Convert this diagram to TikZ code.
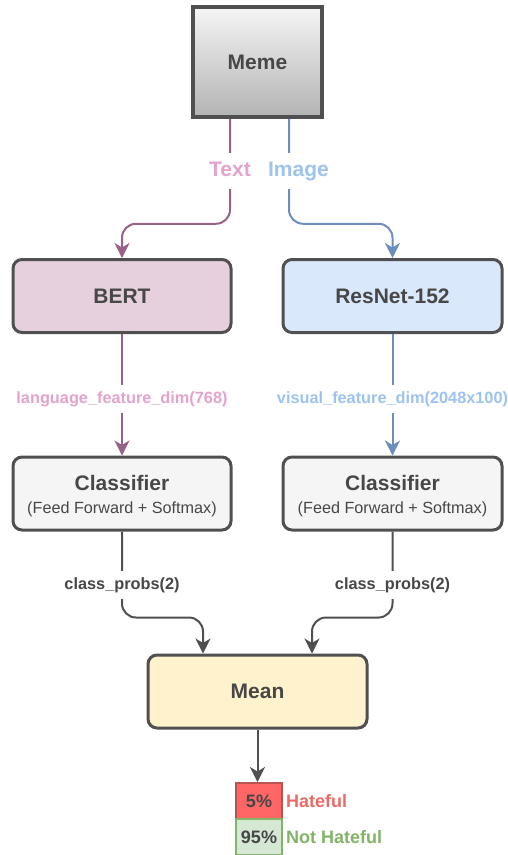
\documentclass[tikz,border=0pt]{standalone}
\usepackage{fontspec}
\setmainfont{Liberation Sans}
\usetikzlibrary{arrows.meta}
\definecolor{txt}{HTML}{474747}
\definecolor{boxline}{HTML}{505050}
\definecolor{memetop}{HTML}{F5F5F5}
\definecolor{memebot}{HTML}{B3B3B3}
\definecolor{pinkline}{HTML}{996185}
\definecolor{blueline}{HTML}{6C8EBF}
\definecolor{pinklbl}{HTML}{E4A3CB}
\definecolor{bluelbl}{HTML}{9DC3EE}
\definecolor{bertfill}{HTML}{E6D0DE}
\definecolor{resfill}{HTML}{DAE8FC}
\definecolor{clsfill}{HTML}{F5F5F5}
\definecolor{meanfill}{HTML}{FFF2CC}
\definecolor{redfill}{HTML}{FF6666}
\definecolor{redline}{HTML}{B85450}
\definecolor{redtxt}{HTML}{EA6B66}
\definecolor{greenfill}{HTML}{D5E8D4}
\definecolor{greenline}{HTML}{82B366}
\begin{document}
\begin{tikzpicture}[x=1pt,y=-1pt,
  box/.style={draw=boxline, line width=3pt, rounded corners=9pt,
    minimum width=218pt, minimum height=73pt, text=txt,
    font=\fontsize{21}{25}\selectfont\bfseries},
  conn/.style={line width=2pt, rounded corners=14pt,
    -{Stealth[length=15pt,width=15pt,inset=4.5pt]}},
  lbl/.style={fill=white, inner xsep=2pt, inner ysep=6pt,
    font=\fontsize{16.3}{19}\selectfont\bfseries, text height=12pt, text depth=3.5pt},
  biglbl/.style={fill=white, inner xsep=3pt, inner ysep=8.5pt,
    font=\fontsize{21}{25}\selectfont\bfseries, text height=15pt, text depth=4pt},
  pct/.style={line width=2pt, minimum width=46pt, minimum height=36pt, inner sep=0pt,
    text=txt, font=\fontsize{18}{20}\selectfont\bfseries},
  res/.style={anchor=west, inner sep=0pt, font=\fontsize{18}{20}\selectfont\bfseries}
]
\useasboundingbox (0,0) rectangle (507,855);

\node[draw=boxline, line width=3.5pt, top color=memetop, bottom color=memebot,
  minimum width=129pt, minimum height=110pt, text=txt,
  font=\fontsize{21}{25}\selectfont\bfseries] (meme) at (257.5,62) {Meme};

\node[box, fill=bertfill] (bert) at (122,296) {BERT};
\node[box, fill=resfill, minimum width=219pt] (resnet) at (392.5,296) {ResNet-152};

\node[box, fill=clsfill, align=center] (cls1) at (122,493.5)
  {\rule{0pt}{20pt}Classifier\\[-2.5pt]{\fontsize{16.2}{19}\selectfont\mdseries (Feed Forward + Softmax)}};
\node[box, fill=clsfill, align=center, minimum width=219pt] (cls2) at (392.5,493.5)
  {\rule{0pt}{20pt}Classifier\\[-2.5pt]{\fontsize{16.2}{19}\selectfont\mdseries (Feed Forward + Softmax)}};

\node[box, fill=meanfill, minimum width=219pt] (mean) at (257.5,691.5) {Mean};

\node[pct, draw=redline, fill=redfill] (p5) at (259,801) {5\%};
\node[pct, draw=greenline, fill=greenfill] (p95) at (259,837) {95\%};
\node[res, text=redtxt] (hate) at (286,801) {Hateful};
\node[res, text=greenline] (nohate) at (286,837) {Not Hateful};

% connectors
\draw[conn, draw=pinkline] ([xshift=-27.5pt]meme.south) -- ++(0,105) -| (bert.north);
\draw[conn, draw=blueline] ([xshift=31.5pt]meme.south) -- ++(0,105) -| (resnet.north);
\draw[conn, draw=pinkline] (bert.south) -- (cls1.north);
\draw[conn, draw=blueline] (resnet.south) -- (cls2.north);
\draw[conn, draw=boxline] (cls1.south) -- ++(0,86) -| ([xshift=-54.5pt]mean.north);
\draw[conn, draw=boxline] (cls2.south) -- ++(0,86) -| ([xshift=54.5pt]mean.north);
\draw[conn, draw=boxline] (mean.south) -- (mean.south |- p5.north);

% labels
\node[biglbl, text=pinklbl] (ltext) at (230,171) {Text};
\node[biglbl, text=bluelbl] (limage) at (298.5,171) {Image};
\node[lbl, text=pinklbl] (llang) at (122,399) {language\_feature\_dim(768)};
\node[lbl, text=bluelbl] (lvis) at (392.5,399) {visual\_feature\_dim(2048x100)};
\node[lbl, text=txt] (lcp1) at (122,585) {class\_probs(2)};
\node[lbl, text=txt] (lcp2) at (392.5,585) {class\_probs(2)};
\end{tikzpicture}
\end{document}
